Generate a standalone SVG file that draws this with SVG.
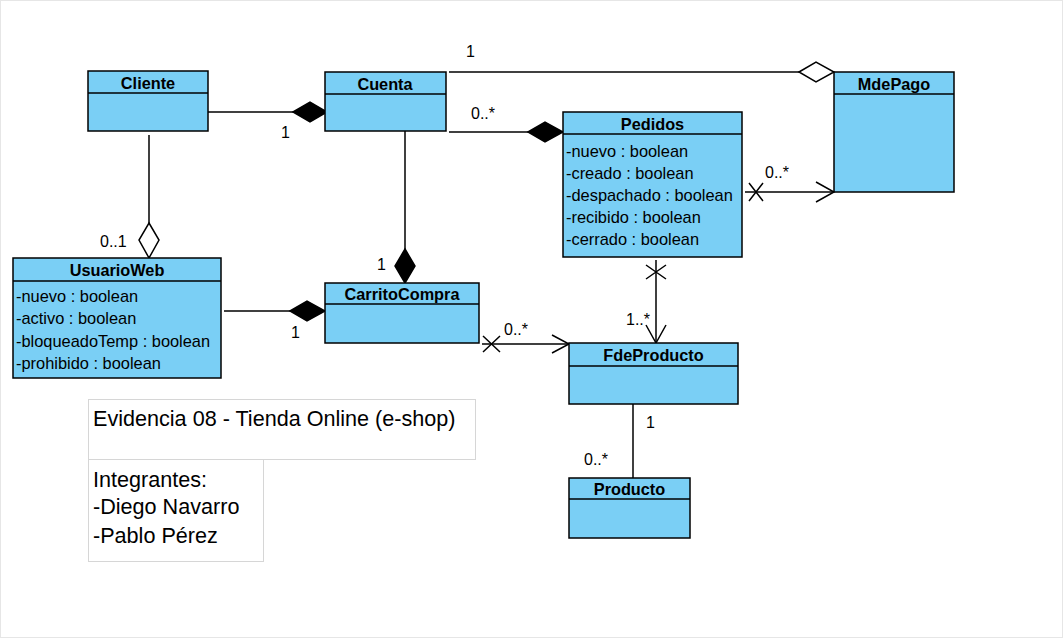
<svg xmlns="http://www.w3.org/2000/svg" width="1063" height="638" viewBox="0 0 1063 638">
<style>
.box{fill:#7ACFF5;stroke:#000;stroke-width:1.5}
.sep{stroke:#000;stroke-width:1.5}
.name{font-family:"Liberation Sans",Arial,sans-serif;font-weight:bold;font-size:16.3px;text-anchor:middle;fill:#000}
.attr{font-family:"Liberation Sans",Arial,sans-serif;font-size:16.4px;fill:#000}
.lbl{font-family:"Liberation Sans",Arial,sans-serif;font-size:16px;fill:#000}
.ln{stroke:#000;stroke-width:1.5;fill:none}
.fd{fill:#000;stroke:#000;stroke-width:1.5}
.hd{fill:#fff;stroke:#000;stroke-width:1.5}
.note{fill:#fff;stroke:#d6d6d6;stroke-width:1}
.nt{font-family:"Liberation Sans",Arial,sans-serif;font-size:21.6px;fill:#000}
</style>
<rect x="0.5" y="0.5" width="1062" height="637" fill="#fff" stroke="#e6e6e6"/>
<g id="connectors">
  <line class="ln" x1="208" y1="112" x2="293" y2="112"/>
  <polygon class="fd" points="293,112 310,102 327,112 310,122"/>
  <text class="lbl" x="281" y="138">1</text>
  <line class="ln" x1="449" y1="72" x2="799" y2="72"/>
  <polygon class="hd" points="799,72 816,62 834,72 816,82"/>
  <text class="lbl" x="466" y="57">1</text>
  <line class="ln" x1="449" y1="132" x2="528" y2="132"/>
  <polygon class="fd" points="528,132 545,122 563,132 545,142"/>
  <text class="lbl" x="471" y="119">0..*</text>
  <line class="ln" x1="149" y1="135" x2="149" y2="223"/>
  <polygon class="hd" points="149,223 159,240 149,258 139,240"/>
  <text class="lbl" x="100" y="247">0..1</text>
  <line class="ln" x1="405" y1="131" x2="405" y2="249"/>
  <polygon class="fd" points="405,249 415,266 405,283 395,266"/>
  <text class="lbl" x="377" y="270">1</text>
  <line class="ln" x1="224" y1="311" x2="290" y2="311"/>
  <polygon class="fd" points="290,311 307,301 325,311 307,321"/>
  <text class="lbl" x="291" y="338">1</text>
  <line class="ln" x1="482" y1="344" x2="569" y2="344"/>
  <path class="ln" d="M483,336 L500,352 M483,352 L500,336"/>
  <path class="ln" d="M552,335 L569,344 L552,353"/>
  <text class="lbl" x="504" y="335">0..*</text>
  <line class="ln" x1="745" y1="192" x2="834" y2="192"/>
  <path class="ln" d="M749,183 L763,201 M749,201 L763,183"/>
  <path class="ln" d="M816,182 L834,192 L816,202"/>
  <text class="lbl" x="765" y="178">0..*</text>
  <line class="ln" x1="656" y1="260" x2="656" y2="343"/>
  <path class="ln" d="M646,265 L666,279 M646,279 L666,265"/>
  <path class="ln" d="M646,325 L656,343 L666,325"/>
  <text class="lbl" x="626" y="325">1..*</text>
  <line class="ln" x1="633" y1="404" x2="633" y2="478"/>
  <text class="lbl" x="646" y="428">1</text>
  <text class="lbl" x="584" y="465">0..*</text>
</g>
<g id="Cliente">
  <rect class="box" x="88" y="71" width="120" height="60"/>
  <line class="sep" x1="88" y1="93" x2="208" y2="93"/>
  <text class="name" x="148" y="88.5">Cliente</text>
</g>
<g id="Cuenta">
  <rect class="box" x="325" y="72" width="121" height="59"/>
  <line class="sep" x1="325" y1="94" x2="446" y2="94"/>
  <text class="name" x="385" y="89.5">Cuenta</text>
</g>
<g id="MdePago">
  <rect class="box" x="834" y="72" width="120" height="120"/>
  <line class="sep" x1="834" y1="94" x2="954" y2="94"/>
  <text class="name" x="894" y="89.5">MdePago</text>
</g>
<g id="Pedidos">
  <rect class="box" x="563" y="112" width="179" height="145"/>
  <line class="sep" x1="563" y1="134" x2="742" y2="134"/>
  <text class="name" x="652.5" y="129.5">Pedidos</text>
  <text class="attr" x="566" y="157">-nuevo : boolean</text>
  <text class="attr" x="566" y="179">-creado : boolean</text>
  <text class="attr" x="566" y="201">-despachado : boolean</text>
  <text class="attr" x="566" y="223">-recibido : boolean</text>
  <text class="attr" x="566" y="245">-cerrado : boolean</text>
</g>
<g id="UsuarioWeb">
  <rect class="box" x="13" y="258" width="208" height="120"/>
  <line class="sep" x1="13" y1="281" x2="221" y2="281"/>
  <text class="name" x="117" y="276">UsuarioWeb</text>
  <text class="attr" x="16" y="302">-nuevo : boolean</text>
  <text class="attr" x="16" y="324">-activo : boolean</text>
  <text class="attr" x="16" y="347">-bloqueadoTemp : boolean</text>
  <text class="attr" x="16" y="369">-prohibido : boolean</text>
</g>
<g id="CarritoCompra">
  <rect class="box" x="325" y="283" width="154" height="60"/>
  <line class="sep" x1="325" y1="304" x2="479" y2="304"/>
  <text class="name" x="402" y="300">CarritoCompra</text>
</g>
<g id="FdeProducto">
  <rect class="box" x="569" y="343" width="169" height="61"/>
  <line class="sep" x1="569" y1="366" x2="738" y2="366"/>
  <text class="name" x="653.5" y="361">FdeProducto</text>
</g>
<g id="Producto">
  <rect class="box" x="569" y="478" width="121" height="60"/>
  <line class="sep" x1="569" y1="499" x2="690" y2="499"/>
  <text class="name" x="629.5" y="495">Producto</text>
</g>
<g id="note-title">
  <rect class="note" x="88.5" y="399.5" width="387" height="60"/>
  <text class="nt" x="93" y="426">Evidencia 08 - Tienda Online (e-shop)</text>
</g>
<g id="note-integrantes">
  <rect class="note" x="88.5" y="459.5" width="175" height="102"/>
  <text class="nt" x="93" y="487">Integrantes:</text>
  <text class="nt" x="93" y="514">-Diego Navarro</text>
  <text class="nt" x="93" y="543">-Pablo Pérez</text>
</g>
</svg>
